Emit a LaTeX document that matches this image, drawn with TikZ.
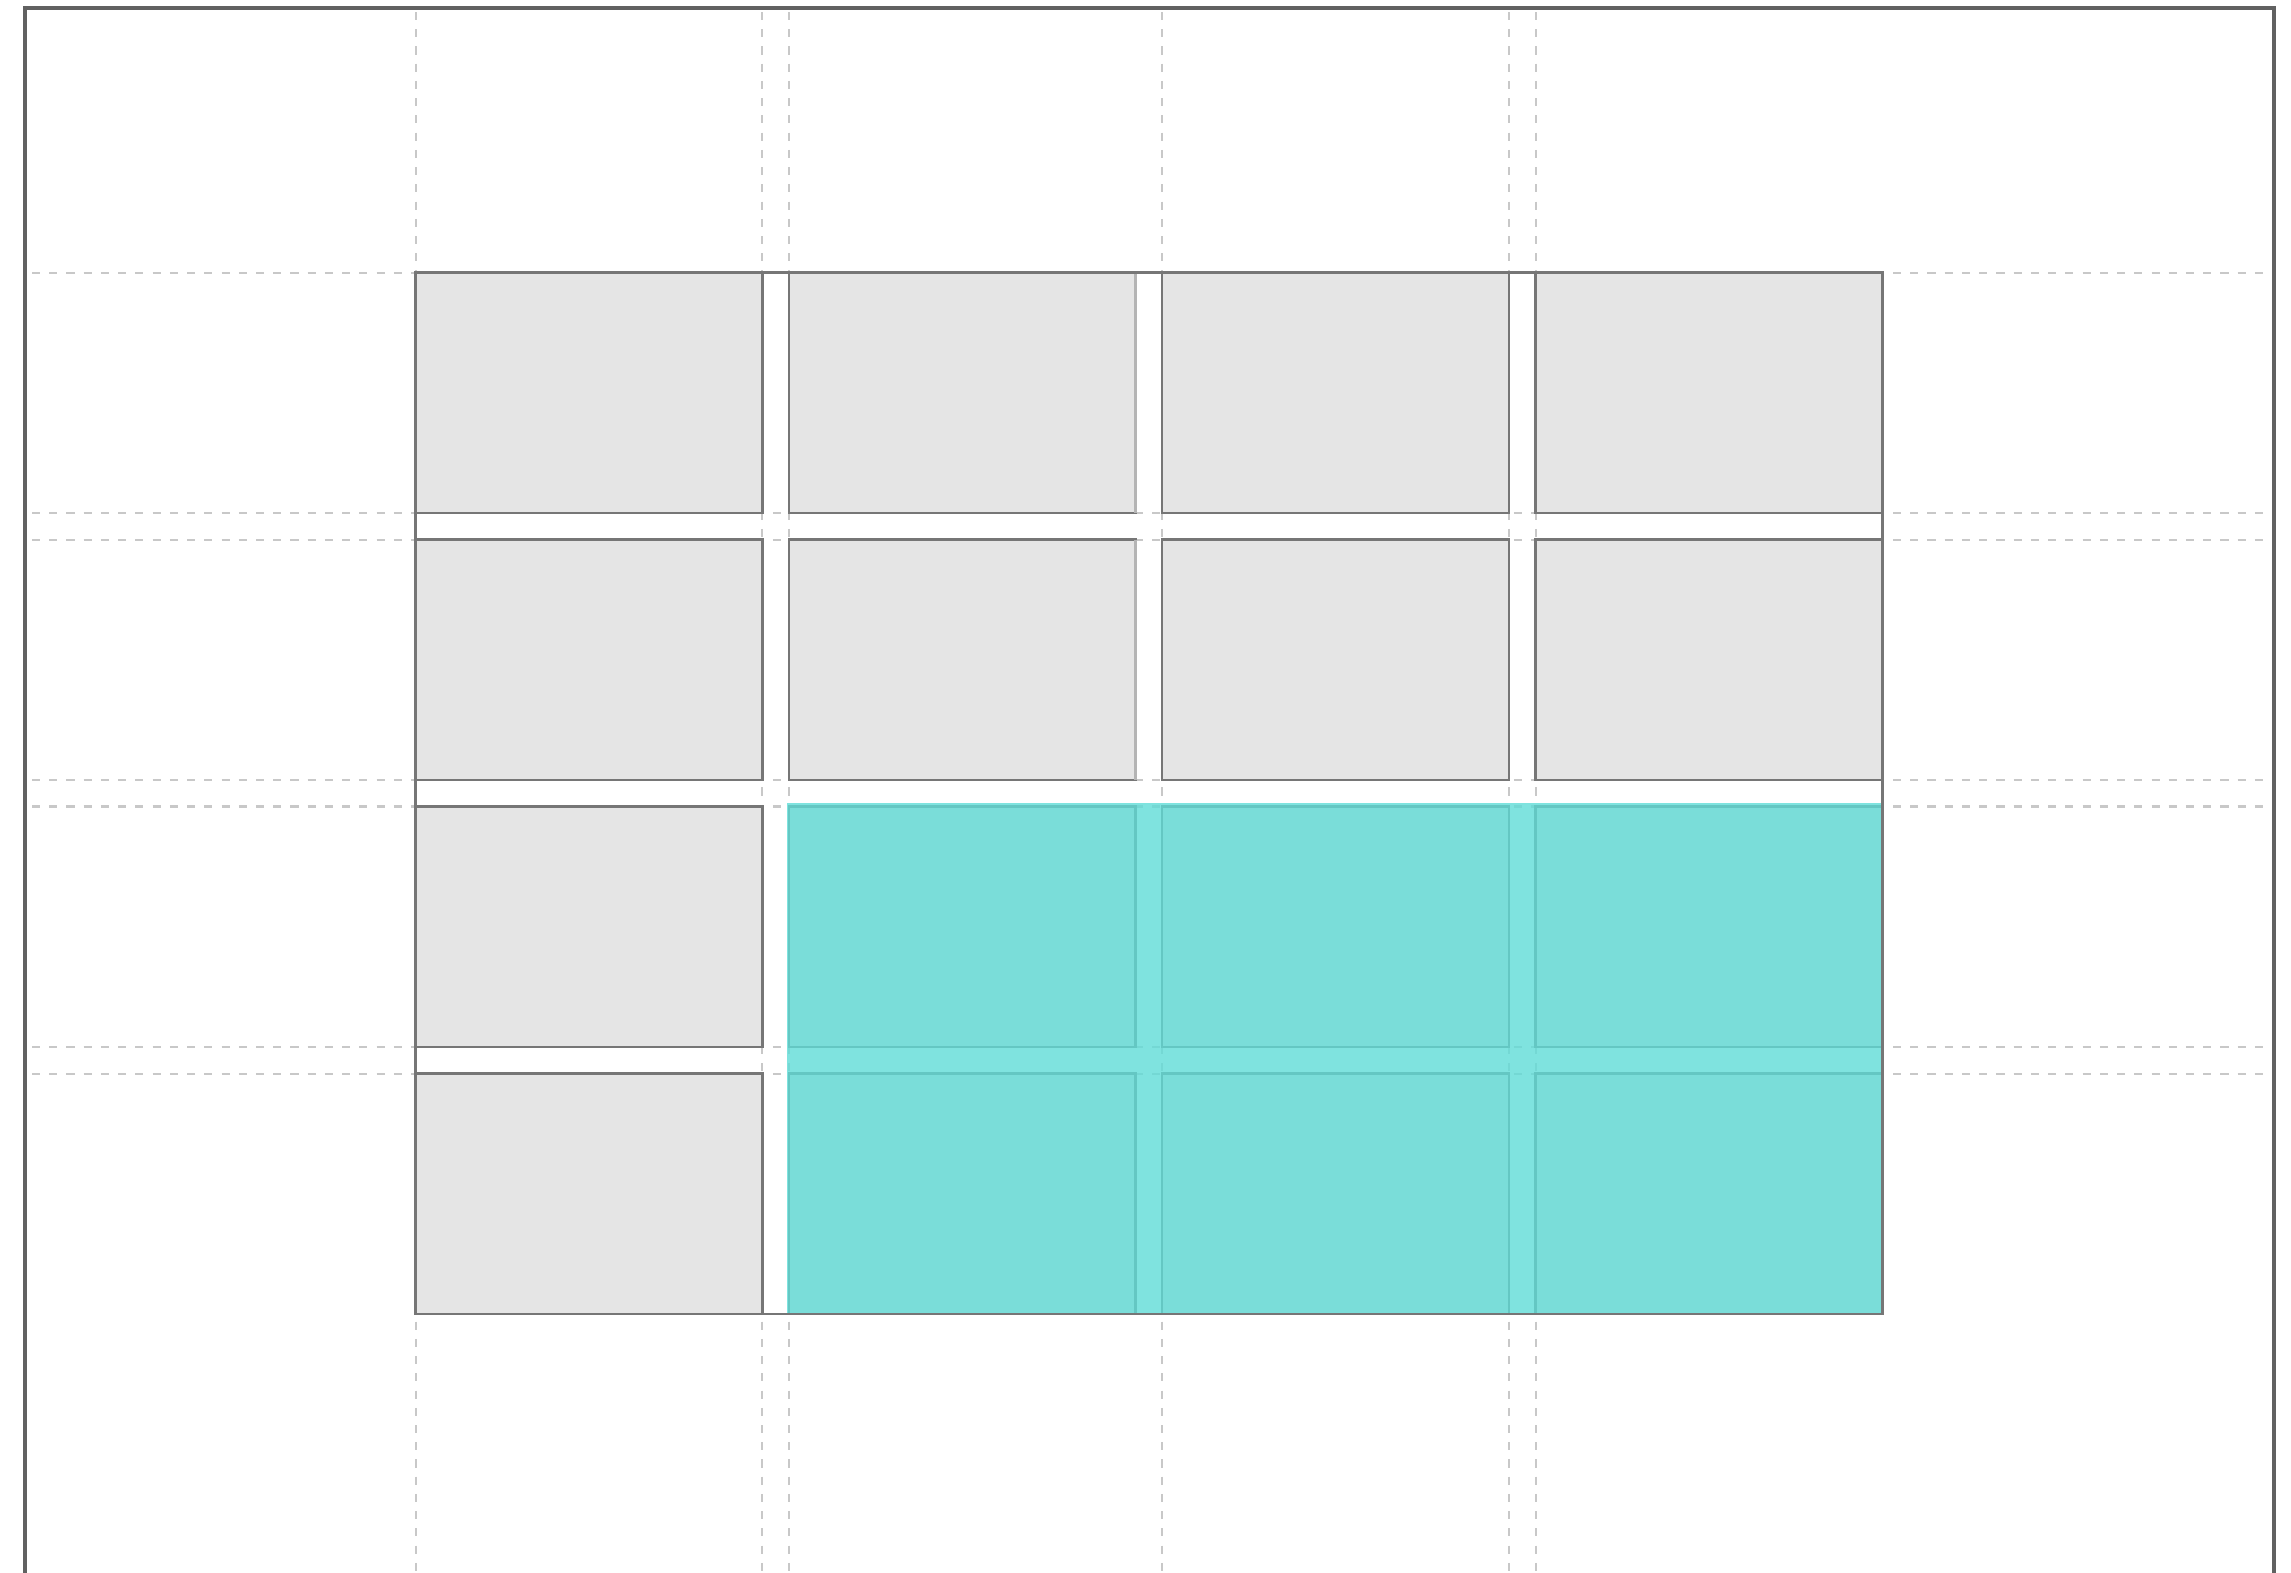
\documentclass[tikz,border=0pt]{standalone}
\definecolor{cellfill}{HTML}{E5E5E5}
\definecolor{celledge}{HTML}{767676}
\definecolor{softedge}{HTML}{B4B4B4}
\definecolor{guidegray}{HTML}{C8C8C8}
\definecolor{framegray}{HTML}{616161}
\definecolor{spanfill}{RGB}{96,220,215}
\begin{document}
\begin{tikzpicture}[
    x=0.01cm, y=-0.01cm,
    cell/.style={rectangle, draw=celledge, fill=cellfill, line width=0.7pt, minimum width=3.466cm, minimum height=2.403cm, inner sep=0pt, outer sep=0pt},
    guide/.style={draw=guidegray, line width=0.55pt, dash pattern=on 2.3pt off 2.6pt},
    frame/.style={draw=framegray, line width=1.4pt},
    span/.style={fill=spanfill, fill opacity=0.8}
]
    \useasboundingbox (0,0) rectangle (2291,1572);
    \clip (0,0) rectangle (2291,1572);
    \fill[white] (0,0) rectangle (2291,1572);

    % grid lines
    \foreach \y in {272.7, 513, 539.7, 780, 1047, 1073.7}
        \draw[guide] (32,\y) -- (2270,\y);
    \draw[guide, line width=1pt] (32,806.7) -- (2270,806.7);
    \foreach \x in {415.7, 762.3, 789, 1162.3, 1508.9, 1535.6}
        \draw[guide] (\x,12) -- (\x,1572);

    % grid items
    \foreach \col in {1,...,4}
        \foreach \row in {1,...,4}
            \node[cell] (c-\col-\row) at ({589+(\col-1)*373.3}, {392.85+(\row-1)*267}) {};
    \draw[softedge, line width=0.7pt] (c-2-1.north east) -- (c-2-1.south east);
    \draw[softedge, line width=0.7pt] (c-2-2.north east) -- (c-2-2.south east);

    % spanning item
    \fill[span] ([xshift=-0.6pt, yshift=0.9pt]c-2-3.north west) rectangle (c-4-4.south east);

    % grid outline
    \draw[celledge, line width=0.7pt] (c-1-1.north west) rectangle (c-4-4.south east);

    % container
    \draw[frame] (25,1600) -- (25,8) -- (2274,8) -- (2274,1600);
\end{tikzpicture}
\end{document}
